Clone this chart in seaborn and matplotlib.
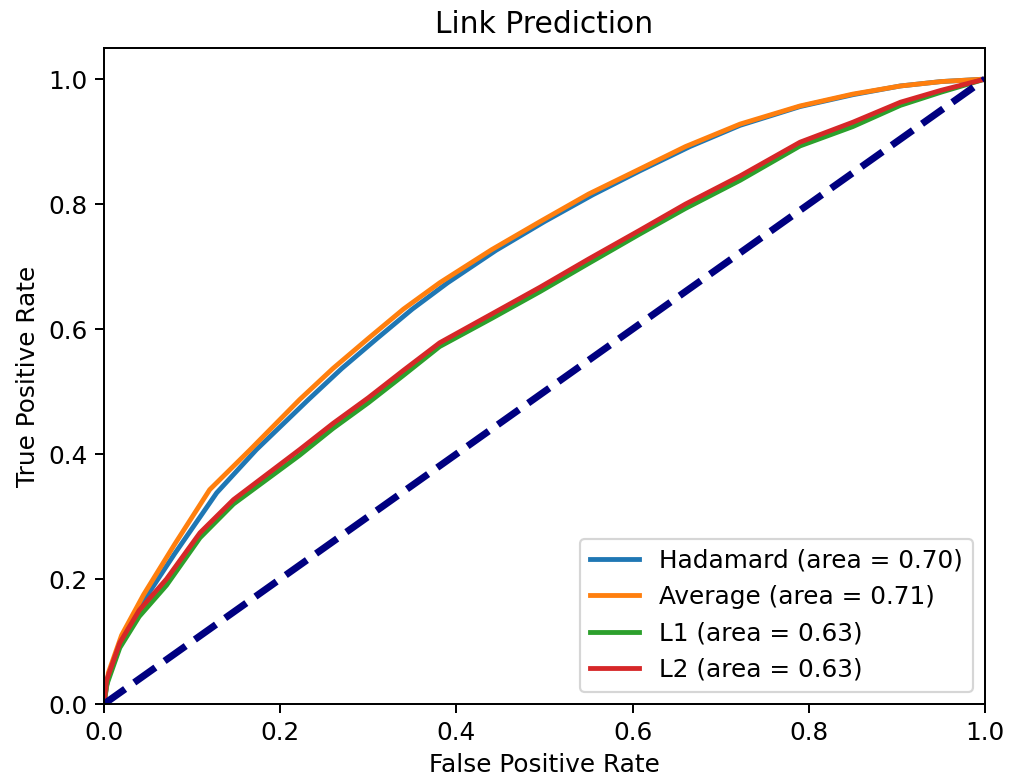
import numpy as np
import pandas as pd
import seaborn as sns
import matplotlib
matplotlib.use("Agg")
import matplotlib.pyplot as plt

# ROC curve points
fpr_hadamard = [0, 0.005, 0.02, 0.045, 0.08, 0.128, 0.173, 0.232, 0.27, 0.31, 0.35, 0.39, 0.445, 0.5, 0.555, 0.608, 0.665, 0.722, 0.79, 0.85, 0.904, 0.95, 1.0]
tpr_hadamard = [0, 0.045, 0.10, 0.165, 0.24, 0.338, 0.407, 0.487, 0.537, 0.585, 0.632, 0.674, 0.726, 0.772, 0.815, 0.853, 0.892, 0.926, 0.956, 0.975, 0.989, 0.996, 1.0]

fpr_average = [0, 0.005, 0.02, 0.045, 0.08, 0.12, 0.166, 0.222, 0.26, 0.3, 0.34, 0.381, 0.44, 0.495, 0.55, 0.608, 0.66, 0.722, 0.79, 0.85, 0.904, 0.95, 1.0]
tpr_average = [0, 0.05, 0.11, 0.175, 0.255, 0.343, 0.407, 0.487, 0.537, 0.585, 0.632, 0.674, 0.727, 0.772, 0.816, 0.856, 0.892, 0.928, 0.957, 0.976, 0.989, 0.996, 1.0]

fpr_l1 = [0, 0.003, 0.018, 0.04, 0.071, 0.109, 0.147, 0.222, 0.26, 0.3, 0.34, 0.381, 0.44, 0.495, 0.55, 0.608, 0.66, 0.722, 0.79, 0.85, 0.904, 0.95, 1.0]
tpr_l1 = [0, 0.03, 0.09, 0.14, 0.19, 0.266, 0.32, 0.398, 0.441, 0.482, 0.526, 0.572, 0.617, 0.66, 0.705, 0.752, 0.793, 0.838, 0.893, 0.924, 0.958, 0.979, 1.0]

fpr_l2 = [0, 0.003, 0.018, 0.04, 0.071, 0.109, 0.147, 0.222, 0.26, 0.3, 0.34, 0.381, 0.44, 0.495, 0.55, 0.608, 0.66, 0.722, 0.79, 0.85, 0.904, 0.95, 1.0]
tpr_l2 = [0, 0.038, 0.098, 0.15, 0.20, 0.274, 0.327, 0.407, 0.449, 0.49, 0.534, 0.578, 0.624, 0.667, 0.712, 0.758, 0.800, 0.845, 0.899, 0.931, 0.963, 0.982, 1.0]

names = ["Hadamard", "Average", "L1", "L2"]
areas = [0.70, 0.71, 0.63, 0.63]
colors = ["#1f77b4", "#ff7f0e", "#2ca02c", "#d62728"]
curves = [(fpr_hadamard, tpr_hadamard), (fpr_average, tpr_average),
          (fpr_l1, tpr_l1), (fpr_l2, tpr_l2)]

plt.rcParams.update({
    "font.size": 11.3,
    "axes.titlesize": 13.6,
    "axes.linewidth": 0.9,
    "xtick.major.size": 4,
    "ytick.major.size": 4,
    "xtick.major.width": 0.9,
    "ytick.major.width": 0.9,
})

fig, ax = plt.subplots(figsize=(6.4, 4.96), dpi=157.7)
fig.subplots_adjust(left=0.103, right=0.976, bottom=0.0997, top=0.9386)

for (fx, ty), name, area, c in zip(curves, names, areas, colors):
    df = pd.DataFrame({"fpr": fx, "tpr": ty})
    sns.lineplot(data=df, x="fpr", y="tpr", ax=ax, color=c, lw=2.2,
                 sort=False, estimator=None,
                 label="%s (area = %0.2f)" % (name, area))

# chance line
sns.lineplot(x=[0, 1], y=[0, 1], ax=ax, color="navy", lw=3.2, linestyle="--")

ax.set_xlim(0.0, 1.0)
ax.set_ylim(0.0, 1.05)
ax.set_xlabel("False Positive Rate")
ax.set_ylabel("True Positive Rate")
ax.set_title("Link Prediction", pad=7)
ax.legend(loc="lower right")

fig.savefig("out.png", dpi=157.7)
